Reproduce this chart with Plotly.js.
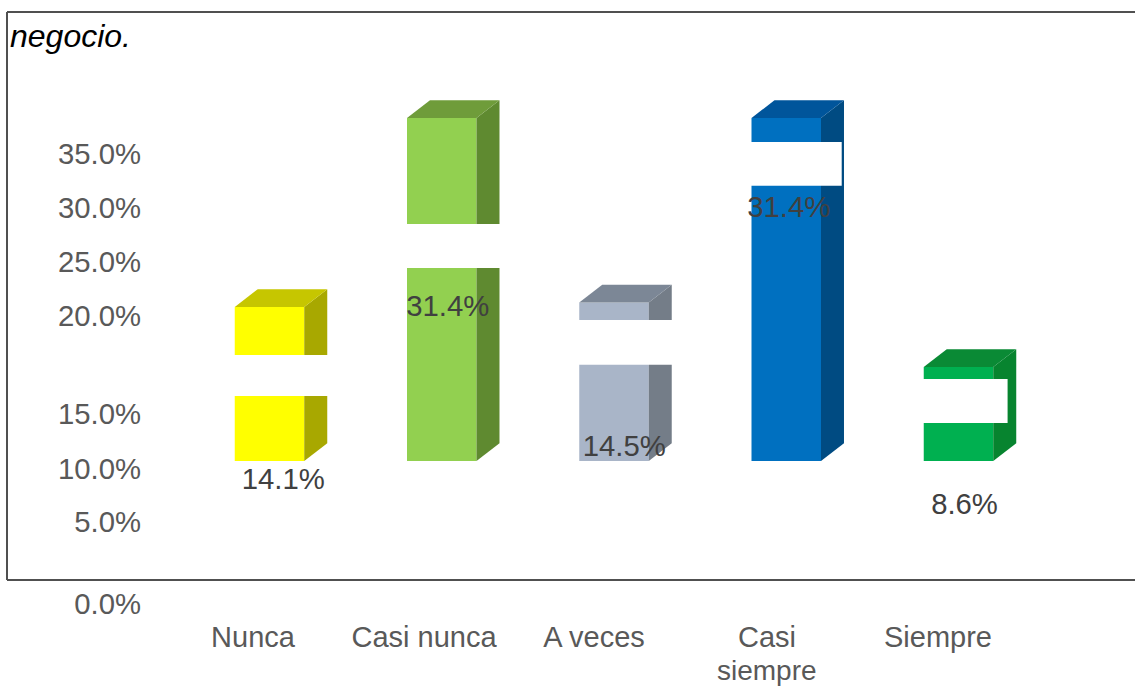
<!DOCTYPE html>
<html>
<head>
<meta charset="utf-8">
<script src="https://cdn.plot.ly/plotly-3.0.1.min.js"></script>
<style>html,body{margin:0;padding:0;background:#fff}#chart{width:1135px;height:686px}</style>
</head>
<body>
<div id="chart"></div>
<script>
// Data
var categories = ['Nunca', 'Casi nunca', 'A veces', 'Casi', 'Siempre'];
var categoryContinuation = 'siempre';
var values = [14.1, 31.4, 14.5, 31.4, 8.6];
var valueLabels = ['14.1%', '31.4%', '14.5%', '31.4%', '8.6%'];
var yTickLabels = ['0.0%', '5.0%', '10.0%', '15.0%', '20.0%', '25.0%', '30.0%', '35.0%'];

// Where the source image happens to place things (axis units)
var yTickPositions = [-13.1, -5.6, -0.73, 4.3, 13.28, 18.2, 23.2, 28.1];
var xTickPositions = [-0.096, 0.897, 1.884, 2.888, 3.881];
var labelX = [0.08, 1.035, 2.06, 3.015, 4.035];
var labelY = [-1.92, 13.92, 1.1, 22.98, -4.18];
var bandLow = [5.95, 17.67, 8.8, 25.2, 3.48];
var bandHigh = [9.7, 21.7, 12.9, 29.2, 7.5];
var bandLeft = [-0.27, 0.78, 1.72, 2.79, 3.78];
var bandRight = [0.41, 1.34, 2.345, 3.322, 4.285];

// Styles
var frontColors = ['#FFFF00', '#92D050', '#A9B5C8', '#0070C0', '#00B050'];
var sideColors = ['#A8A800', '#5F8A30', '#747D88', '#004B82', '#07842F'];
var topColors = ['#C6C600', '#6F9C3A', '#7C8796', '#00559B', '#0A8A35'];

var barWidth = 0.4035, depthX = 0.1335, depthY = 1.62;
var idx = values.map(function (_, i) { return i; });
var traces = [];

traces.push({
  type: 'bar', x: idx, y: values, width: barWidth,
  marker: { color: frontColors, line: { width: 0 } },
  hoverinfo: 'skip', showlegend: false
});

function poly(xs, ys, color) {
  return { type: 'scatter', mode: 'lines', x: xs, y: ys, fill: 'toself', fillcolor: color,
    line: { width: 0, color: color }, hoverinfo: 'skip', showlegend: false };
}

idx.forEach(function (i) {
  var v = values[i], l = i - barWidth / 2, r = i + barWidth / 2;
  traces.push(poly([r, r + depthX, r + depthX, r, r], [0, depthY, v + depthY, v, 0], sideColors[i]));
  traces.push(poly([l, r, r + depthX, l + depthX, l], [v, v, v + depthY, v + depthY, v], topColors[i]));
});

idx.forEach(function (i) {
  traces.push(poly([bandLeft[i], bandRight[i], bandRight[i], bandLeft[i], bandLeft[i]],
    [bandLow[i], bandLow[i], bandHigh[i], bandHigh[i], bandLow[i]], '#FFFFFF'));
});

traces.push({
  type: 'scatter', mode: 'text', x: labelX, y: labelY, text: valueLabels,
  textposition: 'middle center', cliponaxis: false,
  textfont: { family: 'Liberation Sans', size: 29.3, color: '#404040' },
  hoverinfo: 'skip', showlegend: false
});

var W = 1135, H = 686, L = 142, B = 76;
function px(x) { return (x - L) / (W - L); }
function py(y) { return (H - B - y) / (H - B); }
function frameLine(x0, y0, x1, y1) {
  return { type: 'line', xref: 'paper', yref: 'paper', x0: px(x0), y0: py(y0), x1: px(x1), y1: py(y1),
    line: { color: '#505050', width: 2 }, layer: 'above' };
}

var layout = {
  width: W, height: H,
  margin: { l: L, r: 0, t: 0, b: B, pad: 0 },
  paper_bgcolor: '#fff', plot_bgcolor: '#fff',
  showlegend: false,
  title: {
    text: '<i>negocio.</i>', x: 10 / W, xanchor: 'left', xref: 'container', y: 1 - 36 / H, yanchor: 'middle',
    font: { family: 'Liberation Sans', size: 32, color: '#000' }
  },
  xaxis: {
    range: [-0.7402, 5.0247], tickmode: 'array', tickvals: xTickPositions, ticktext: categories,
    showgrid: false, zeroline: false, showline: false, ticks: 'outside', ticklen: 1, tickcolor: 'rgba(0,0,0,0)',
    tickangle: 0, tickfont: { family: 'Liberation Sans', size: 29, color: '#595959' }
  },
  yaxis: {
    range: [-13.645, 42.2], tickmode: 'array', tickvals: yTickPositions, ticktext: yTickLabels,
    showgrid: false, zeroline: false, showline: false, ticks: '',
    tickfont: { family: 'Liberation Sans', size: 29.3, color: '#595959' }
  },
  annotations: [{
    text: categoryContinuation, xref: 'x', x: xTickPositions[3], yref: 'paper', y: py(670),
    xanchor: 'center', yanchor: 'middle', showarrow: false,
    font: { family: 'Liberation Sans', size: 28, color: '#595959' }
  }],
  shapes: [
    frameLine(7, 12, W, 12),
    frameLine(7, 12, 7, 580),
    frameLine(7, 580, W, 580)
  ]
};
Plotly.newPlot('chart', traces, layout, { displayModeBar: false, staticPlot: true });
</script>
</body>
</html>
